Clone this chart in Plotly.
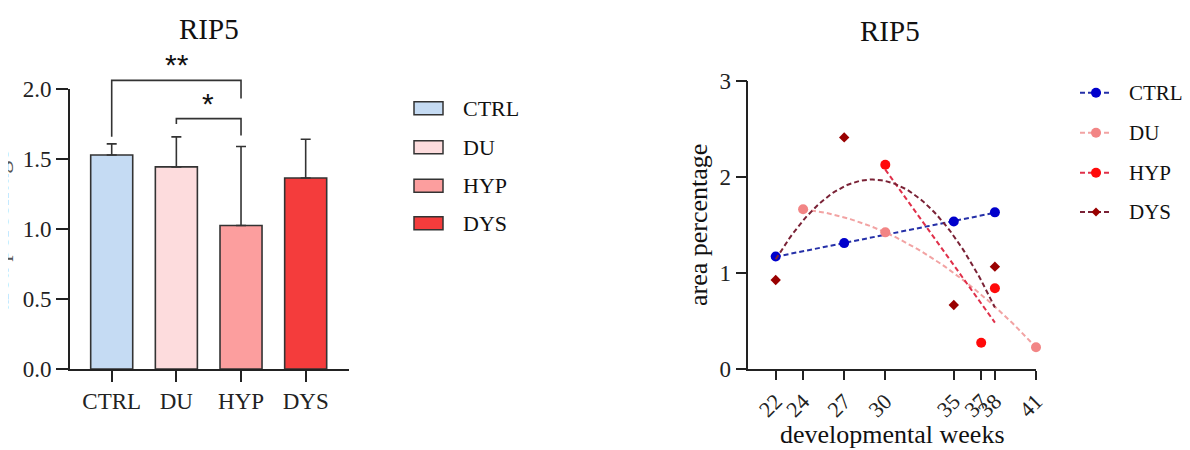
import numpy as np
import plotly.graph_objects as go

# ---------------- data ----------------
groups = ["CTRL", "DU", "HYP", "DYS"]
bar_means = [1.53, 1.445, 1.026, 1.366]
bar_err = [0.08, 0.215, 0.565, 0.277]
bar_colors = ["#C5DBF3", "#FDDCDD", "#FC9E9E", "#F43C3C"]

weeks_ticks = [22, 24, 27, 30, 35, 37, 38, 41]

ctrl_x = [22, 27, 35, 38]
ctrl_y = [1.17, 1.31, 1.535, 1.63]
du_x = [24, 30, 41]
du_y = [1.662, 1.422, 0.226]
hyp_x = [30, 37, 38]
hyp_y = [2.126, 0.274, 0.84]
dys_x = [22, 27, 35, 38]
dys_y = [0.926, 2.41, 0.666, 1.065]

# page body has an 8px margin; the figure fills the rest of the 1190x450 window
OFF = 8
W, H = 1190 - OFF, 450 - OFF
FONT = "Liberation Serif"
AX = "#222222"


def px_x(p):
    return (p - OFF) / W


def px_y(p):
    return 1 - (p - OFF) / H


fig = go.Figure()

# ---------------- left: bar chart ----------------
fig.add_trace(go.Bar(
    x=list(range(len(groups))), y=bar_means,
    marker=dict(color=bar_colors, line=dict(color="#333333", width=1.6)),
    width=0.65,
    error_y=dict(type="data", symmetric=False, array=bar_err,
                 arrayminus=[0] * len(groups), color="#333333",
                 thickness=1.6, width=5),
    xaxis="x", yaxis="y", showlegend=False,
))

# ---------------- right: trends ----------------
series = [
    ("CTRL", ctrl_x, ctrl_y, 1, "#0000CC", "#2530A8", "circle", 10),
    ("DU", du_x, du_y, 2, "#F28585", "#F2A3A3", "circle", 10),
    ("HYP", hyp_x, hyp_y, 1, "#FF0A0A", "#E0304A", "circle", 10),
    ("DYS", dys_x, dys_y, 2, "#990000", "#7A2236", "diamond", 8),
]
for name, xs, ys, deg, mc, lc, sym, ms in series:
    coef = np.polyfit(xs, ys, deg)
    xx = np.linspace(min(xs), max(xs), 80)
    fig.add_trace(go.Scatter(
        x=xx, y=np.polyval(coef, xx), mode="lines",
        line=dict(color=lc, width=2, dash="5px,3px"),
        xaxis="x2", yaxis="y2", showlegend=False, hoverinfo="skip",
    ))
    fig.add_trace(go.Scatter(
        x=xs, y=ys, mode="markers", name=name,
        marker=dict(color=mc, symbol=sym, size=ms),
        xaxis="x2", yaxis="y2", showlegend=False, cliponaxis=False,
    ))

axis_common = dict(
    showline=True, linewidth=1.6, linecolor=AX, showgrid=False,
    zeroline=False, ticks="outside", tickwidth=1.6, tickcolor=AX,
    automargin=False,
    tickfont=dict(family=FONT, size=23, color="#222"),
)

fig.update_layout(
    width=W, height=H,
    margin=dict(l=0, r=0, t=0, b=0, pad=0, autoexpand=False),
    paper_bgcolor="white", plot_bgcolor="white",
    font=dict(family=FONT, color="#222"),
    xaxis=dict(
        domain=[px_x(70), px_x(349)], range=[-0.645, 3.67],
        tickvals=list(range(len(groups))), ticktext=groups,
        ticklen=11, anchor="y", **axis_common,
    ),
    yaxis=dict(
        domain=[px_y(369), px_y(89.3)], range=[0, 2.0],
        tickvals=[0, 0.5, 1.0, 1.5, 2.0], tickformat=".1f",
        ticklen=12, anchor="x", **axis_common,
    ),
    xaxis2=dict(
        domain=[px_x(748.3), px_x(1036)], range=[20, 41],
        tickvals=weeks_ticks, tickangle=-45, ticklen=9, anchor="y2",
        **{**axis_common, "tickfont": dict(family=FONT, size=22, color="#222")},
    ),
    yaxis2=dict(
        domain=[px_y(369), px_y(80.7)], range=[0, 3],
        tickvals=[0, 1, 2, 3], ticklen=11, anchor="x2", **axis_common,
    ),
)

shapes = []
annots = []

# titles
annots.append(dict(text="RIP5", x=px_x(209), y=px_y(29), xref="paper", yref="paper",
                   showarrow=False, font=dict(family=FONT, size=29, color="#111"),
                   xanchor="center", yanchor="middle"))
annots.append(dict(text="RIP5", x=px_x(890), y=px_y(31), xref="paper", yref="paper",
                   showarrow=False, font=dict(family=FONT, size=29, color="#111"),
                   xanchor="center", yanchor="middle"))

# axis titles
annots.append(dict(text="area percentage", x=px_x(698), y=px_y(225), xref="paper", yref="paper",
                   showarrow=False, textangle=-90, font=dict(family=FONT, size=26, color="#111"),
                   xanchor="center", yanchor="middle"))
annots.append(dict(text="developmental weeks", x=px_x(892), y=px_y(434), xref="paper", yref="paper",
                   showarrow=False, font=dict(family=FONT, size=26, color="#111"),
                   xanchor="center", yanchor="middle"))
# clipped left y title (only the descenders show in the reference)
annots.append(dict(text="area percentage", x=px_x(15), y=px_y(231), xref="paper", yref="paper",
                   showarrow=False, textangle=-90, font=dict(family=FONT, size=26, color="#555"),
                   xanchor="right", yanchor="middle"))

# significance brackets (left plot, y in domain fraction of 0..2)
def yd(v):
    return v / 2.0

shapes.append(dict(type="path", xref="x", yref="y domain",
                   path=f"M 0,{yd(1.66)} L 0,{yd(2.064)} L 2,{yd(2.064)} L 2,{yd(1.934)}",
                   line=dict(color="#333", width=1.6)))
shapes.append(dict(type="path", xref="x", yref="y domain",
                   path=f"M 1,{yd(1.752)} L 1,{yd(1.79)} L 2,{yd(1.79)} L 2,{yd(1.67)}",
                   line=dict(color="#333", width=1.6)))
annots.append(dict(text="**", x=1.01, y=yd(2.18), xref="x", yref="y domain", showarrow=False,
                   font=dict(family="Liberation Sans", size=30, color="#111"),
                   xanchor="center", yanchor="middle"))
annots.append(dict(text="*", x=1.49, y=yd(1.90), xref="x", yref="y domain", showarrow=False,
                   font=dict(family="Liberation Sans", size=30, color="#111"),
                   xanchor="center", yanchor="middle"))

# left legend (swatches)
leg_y = [108.3, 147.3, 185.7, 223.3]
for name, col, yy in zip(groups, bar_colors, leg_y):
    shapes.append(dict(type="rect", xref="paper", yref="paper",
                       x0=px_x(414), x1=px_x(443), y0=px_y(yy - 6.5), y1=px_y(yy + 6.5),
                       fillcolor=col, line=dict(color="#333", width=1.5)))
    annots.append(dict(text=name, x=px_x(461), y=px_y(yy), xref="paper", yref="paper",
                       showarrow=False, font=dict(family=FONT, size=22, color="#111"),
                       xanchor="left", yanchor="middle"))

# right legend
leg2_y = [92.7, 132.7, 172.7, 212.0]
for (name, xs, ys, deg, mc, lc, sym, ms), yy in zip(series, leg2_y):
    shapes.append(dict(type="line", xref="paper", yref="paper",
                       x0=px_x(1080), x1=px_x(1112), y0=px_y(yy), y1=px_y(yy),
                       line=dict(color=lc, width=2, dash="5px,3px")))
    if sym == "circle":
        r = ms / 2
        shapes.append(dict(type="circle", xref="paper", yref="paper",
                           xsizemode="pixel", ysizemode="pixel",
                           xanchor=px_x(1096), yanchor=px_y(yy),
                           x0=-r, x1=r, y0=-r, y1=r,
                           fillcolor=mc, line=dict(color=mc, width=0)))
    else:
        r = ms / 2 + 0.5
        shapes.append(dict(type="path", xref="paper", yref="paper",
                           xsizemode="pixel", ysizemode="pixel",
                           xanchor=px_x(1096), yanchor=px_y(yy),
                           path=f"M {-r},0 L 0,{r} L {r},0 L 0,{-r} Z",
                           fillcolor=mc, line=dict(color=mc, width=0)))
    annots.append(dict(text=name, x=px_x(1127), y=px_y(yy), xref="paper", yref="paper",
                       showarrow=False, font=dict(family=FONT, size=21, color="#111"),
                       xanchor="left", yanchor="middle"))

fig.update_layout(shapes=shapes, annotations=annots)
fig.write_html("out.html")
